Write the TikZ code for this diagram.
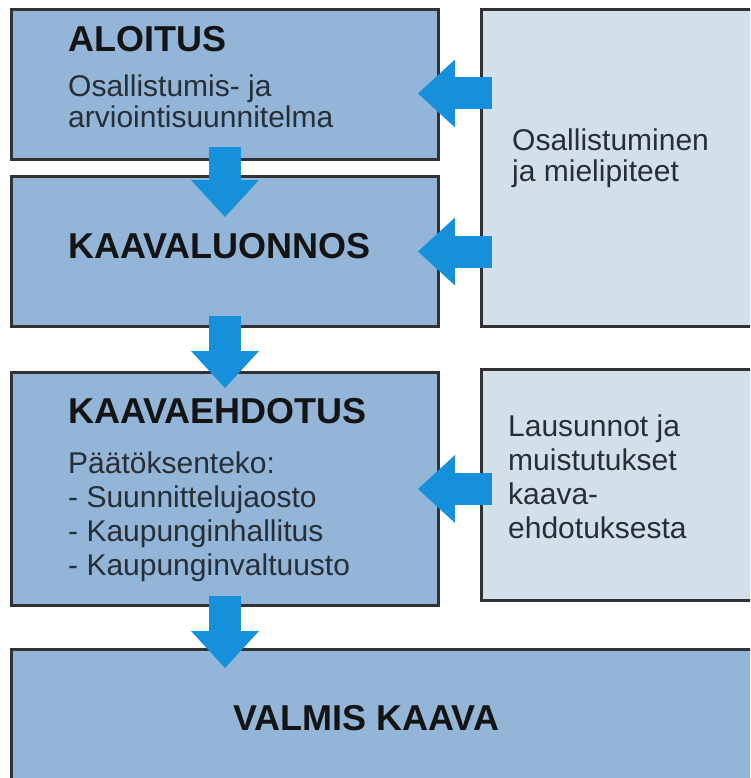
\documentclass[tikz,border=0pt]{standalone}
\usepackage{fontspec}
\setmainfont{Liberation Sans}
\usetikzlibrary{arrows.meta, positioning}
\definecolor{boxblue}{RGB}{147,181,215}
\definecolor{boxpale}{RGB}{211,224,234}
\definecolor{arrblue}{RGB}{22,144,218}
\definecolor{framegray}{RGB}{50,50,52}
\definecolor{txtgray}{RGB}{40,46,54}
\tikzstyle{box}  = [draw=framegray, line width=3pt, fill=boxblue, anchor=north west, inner sep=0pt]
\tikzstyle{pale} = [box, fill=boxpale]
\tikzstyle{head} = [anchor=base west, inner sep=0pt, font=\bfseries\fontsize{36}{40}\selectfont, text=black!92]
\tikzstyle{txt}  = [anchor=base west, inner sep=0pt, align=left, font=\fontsize{30}{34}\selectfont, text=txtgray]
\tikzstyle{blk}  = [draw, color=arrblue, line width=32pt, -{Triangle[width=68pt, length=37pt, line width=0pt]}]

\begin{document}
\begin{tikzpicture}[x=1pt, y=-1pt]
\clip (0,0) rectangle (750,778);
\fill [white] (0,0) rectangle (750,778);

% boxes
\node [box,  minimum width=427pt, minimum height=150pt] at ( 10,   8) (aloitus) {};
\node [box,  minimum width=427pt, minimum height=150pt] at ( 10, 175) (luonnos) {};
\node [box,  minimum width=427pt, minimum height=233pt] at ( 10, 371) (ehdotus) {};
\node [box,  minimum width=760pt, minimum height=150pt] at ( 10, 648) (valmis)  {};
\node [pale, minimum width=290pt, minimum height=317pt] at (480,   8) (osall)   {};
\node [pale, minimum width=290pt, minimum height=231pt] at (480, 368) (lausun)  {};

% texts (multi-line ones sit on their last line)
\node [head] at ( 68,  52) (aloitusT) {ALOITUS};
\node [txt, font=\fontsize{30}{31}\selectfont] at ( 68, 128) (aloitusB) {Osallistumis- ja\\arviointisuunnitelma};
\node [head] at ( 68, 258) (luonnosT) {KAAVALUONNOS};
\node [head] at ( 68, 423) (ehdotusT) {KAAVAEHDOTUS};
\node [txt]  at ( 68, 575) (ehdotusB) {Päätöksenteko:\\- Suunnittelujaosto\\- Kaupunginhallitus\\- Kaupunginvaltuusto};
\node [head] at (233, 730) (valmisT)  {VALMIS KAAVA};
\node [txt, font=\fontsize{30}{31}\selectfont] at (512, 181) (osallB) {Osallistuminen\\ja mielipiteet};
\node [txt]  at (508, 538) (lausunB)  {Lausunnot ja\\muistutukset\\kaava-\\ehdotuksesta};

% arrows
\path ([yshift=14pt]aloitus.south) edge [blk] ([yshift=-42pt]luonnos.north)
      ([yshift=12pt]luonnos.south) edge [blk] ([yshift=-17pt]ehdotus.north)
      ([yshift=11pt]ehdotus.south) edge [blk] ([yshift=-20pt]ehdotus.south |- valmis.north)
      ([xshift=12pt, yshift=-9pt]osall.west |- aloitus.east) edge [blk] ([xshift=-22pt, yshift=-9pt]aloitus.east)
      ([xshift=12pt]osall.west |- luonnos.east)  edge [blk] ([xshift=-22pt]luonnos.east)
      ([xshift=12pt]lausun.west |- ehdotus.east) edge [blk] ([xshift=-22pt]ehdotus.east);

\end{tikzpicture}
\end{document}
